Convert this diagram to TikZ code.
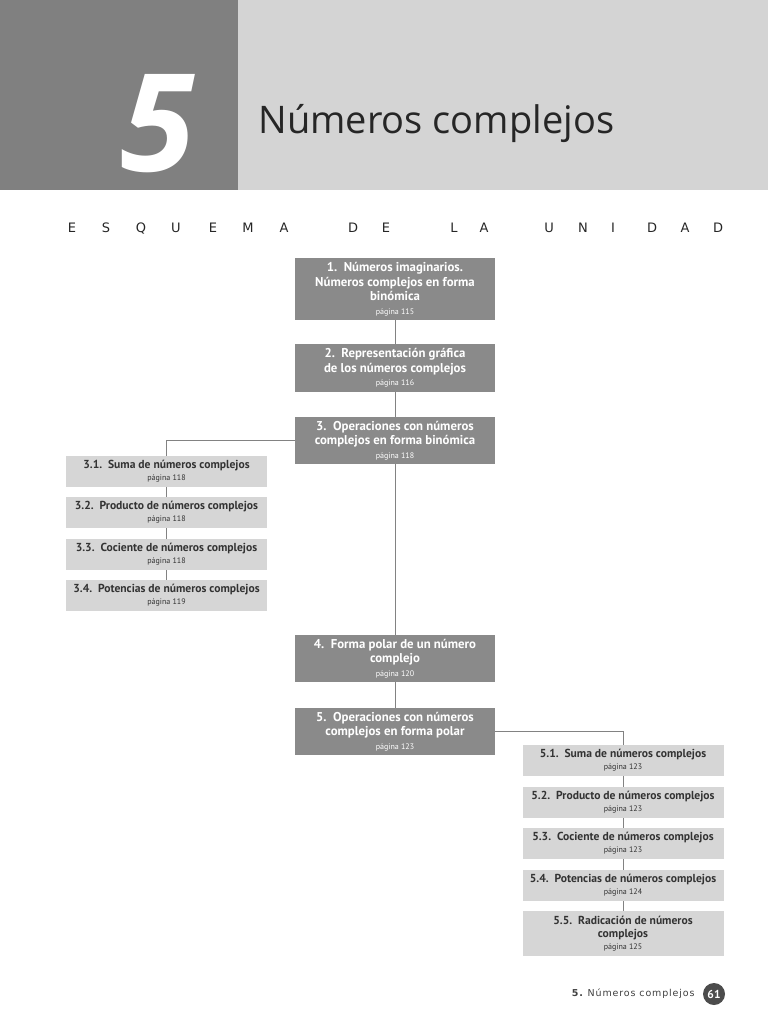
\documentclass[tikz,border=0pt]{standalone}
\usepackage{fontspec}
\setmainfont{PT Sans}
\newfontfamily\titlefont{Open Sans}
\newfontfamily\techfont{DejaVu Sans}
\newfontfamily\widefont[LetterSpace=9]{DejaVu Sans}

\definecolor{headdark}{RGB}{128,128,128}
\definecolor{headlight}{RGB}{212,212,212}
\definecolor{boxdark}{RGB}{138,138,138}
\definecolor{boxlight}{RGB}{214,214,214}
\definecolor{linegray}{RGB}{130,130,130}

\newcommand\pag[1]{\\[-1pt]{\mdseries\fontsize{8}{9}\selectfont página #1}}

\begin{document}
\begin{tikzpicture}[x=1pt, y=-1pt,
    mainbox/.style={fill=boxdark, text=white, minimum width=200pt, align=center,
      inner sep=0pt, font=\bfseries\fontsize{12.8}{14.5}\selectfont},
    subbox/.style={fill=boxlight, text=black!80, minimum width=201pt, minimum height=31pt,
      align=center, inner sep=0pt, font=\bfseries\fontsize{11.6}{13}\selectfont},
    link/.style={draw=linegray, line width=0.8pt}]
    \useasboundingbox (0,0) rectangle (768,1024);
    \fill[white] (0,0) rectangle (768,1024);

    % cabecera
    \fill[headdark] (0,0) rectangle (238,190);
    \fill[headlight] (238,0) rectangle (768,190);
    \node[text=white, font=\titlefont\bfseries\itshape\fontsize{136}{136}\selectfont] (num) at (158,124) {5};
    \node[anchor=base west, text=black!85, font=\titlefont\fontsize{38}{38}\selectfont] (title) at (255,134) {Números complejos};

    \foreach \l/\x in {E/72, S/106, Q/141, U/176, E/213, M/248, A/284, D/353, E/386,
                       L/454, A/484, U/549, N/583, I/613, D/652, A/685, D/718}
      \node[anchor=base, text=black!85, font=\techfont\fontsize{13}{13}\selectfont] (esq\x) at (\x,233) {\l};

    % columna central
    \node[mainbox, minimum height=62pt] (b1) at (395,289)
      {1.\ \ Números imaginarios.\\Números complejos en forma\\binómica\pag{115}};
    \node[mainbox, minimum height=48pt] (b2) at (395,368)
      {2.\ \ Representación gráfica\\de los números complejos\pag{116}};
    \node[mainbox, minimum height=47pt] (b3) at (395,440.5)
      {3.\ \ Operaciones con números\\complejos en forma binómica\pag{118}};
    \node[mainbox, minimum height=47pt] (b4) at (395,658.5)
      {4.\ \ Forma polar de un número\\complejo\pag{120}};
    \node[mainbox, minimum height=47pt] (b5) at (395,731.5)
      {5.\ \ Operaciones con números\\complejos en forma polar\pag{123}};

    % apartados del 3
    \node[subbox] (s31) at (166.5,471.5) {3.1.\ \ Suma de números complejos\pag{118}};
    \node[subbox] (s32) at (166.5,512.5) {3.2.\ \ Producto de números complejos\pag{118}};
    \node[subbox] (s33) at (166.5,554.5) {3.3.\ \ Cociente de números complejos\pag{118}};
    \node[subbox] (s34) at (166.5,595.5) {3.4.\ \ Potencias de números complejos\pag{119}};

    % apartados del 5
    \node[subbox] (s51) at (623,760.5) {5.1.\ \ Suma de números complejos\pag{123}};
    \node[subbox] (s52) at (623,802.5) {5.2.\ \ Producto de números complejos\pag{123}};
    \node[subbox] (s53) at (623,843.5) {5.3.\ \ Cociente de números complejos\pag{123}};
    \node[subbox] (s54) at (623,885.5) {5.4.\ \ Potencias de números complejos\pag{124}};
    \node[subbox, minimum height=45pt] (s55) at (623,933.5)
      {5.5.\ \ Radicación de números\\complejos\pag{125}};

    \draw[link] (b1) -- (b2);
    \draw[link] (b2) -- (b3);
    \draw[link] (b3) -- (b4);
    \draw[link] (b4) -- (b5);
    \draw[link] (b3.west) -| (s31.north);
    \draw[link] (s31) -- (s32);
    \draw[link] (s32) -- (s33);
    \draw[link] (s33) -- (s34);
    \draw[link] (b5.east) -| (s51.north);
    \draw[link] (s51) -- (s52);
    \draw[link] (s52) -- (s53);
    \draw[link] (s53) -- (s54);
    \draw[link] (s54) -- (s55);

    % pie de pagina
    \node[anchor=east, text=black!75, font=\widefont\fontsize{9.5}{9.5}\selectfont] (foot) at (698,994)
      {\textbf{5.}\ Números complejos};
    \node[circle, fill=black!70, text=white, minimum size=22pt, inner sep=0pt,
      font=\bfseries\fontsize{11.5}{11.5}\selectfont] (pg) at (714,994) {61};
\end{tikzpicture}
\end{document}
